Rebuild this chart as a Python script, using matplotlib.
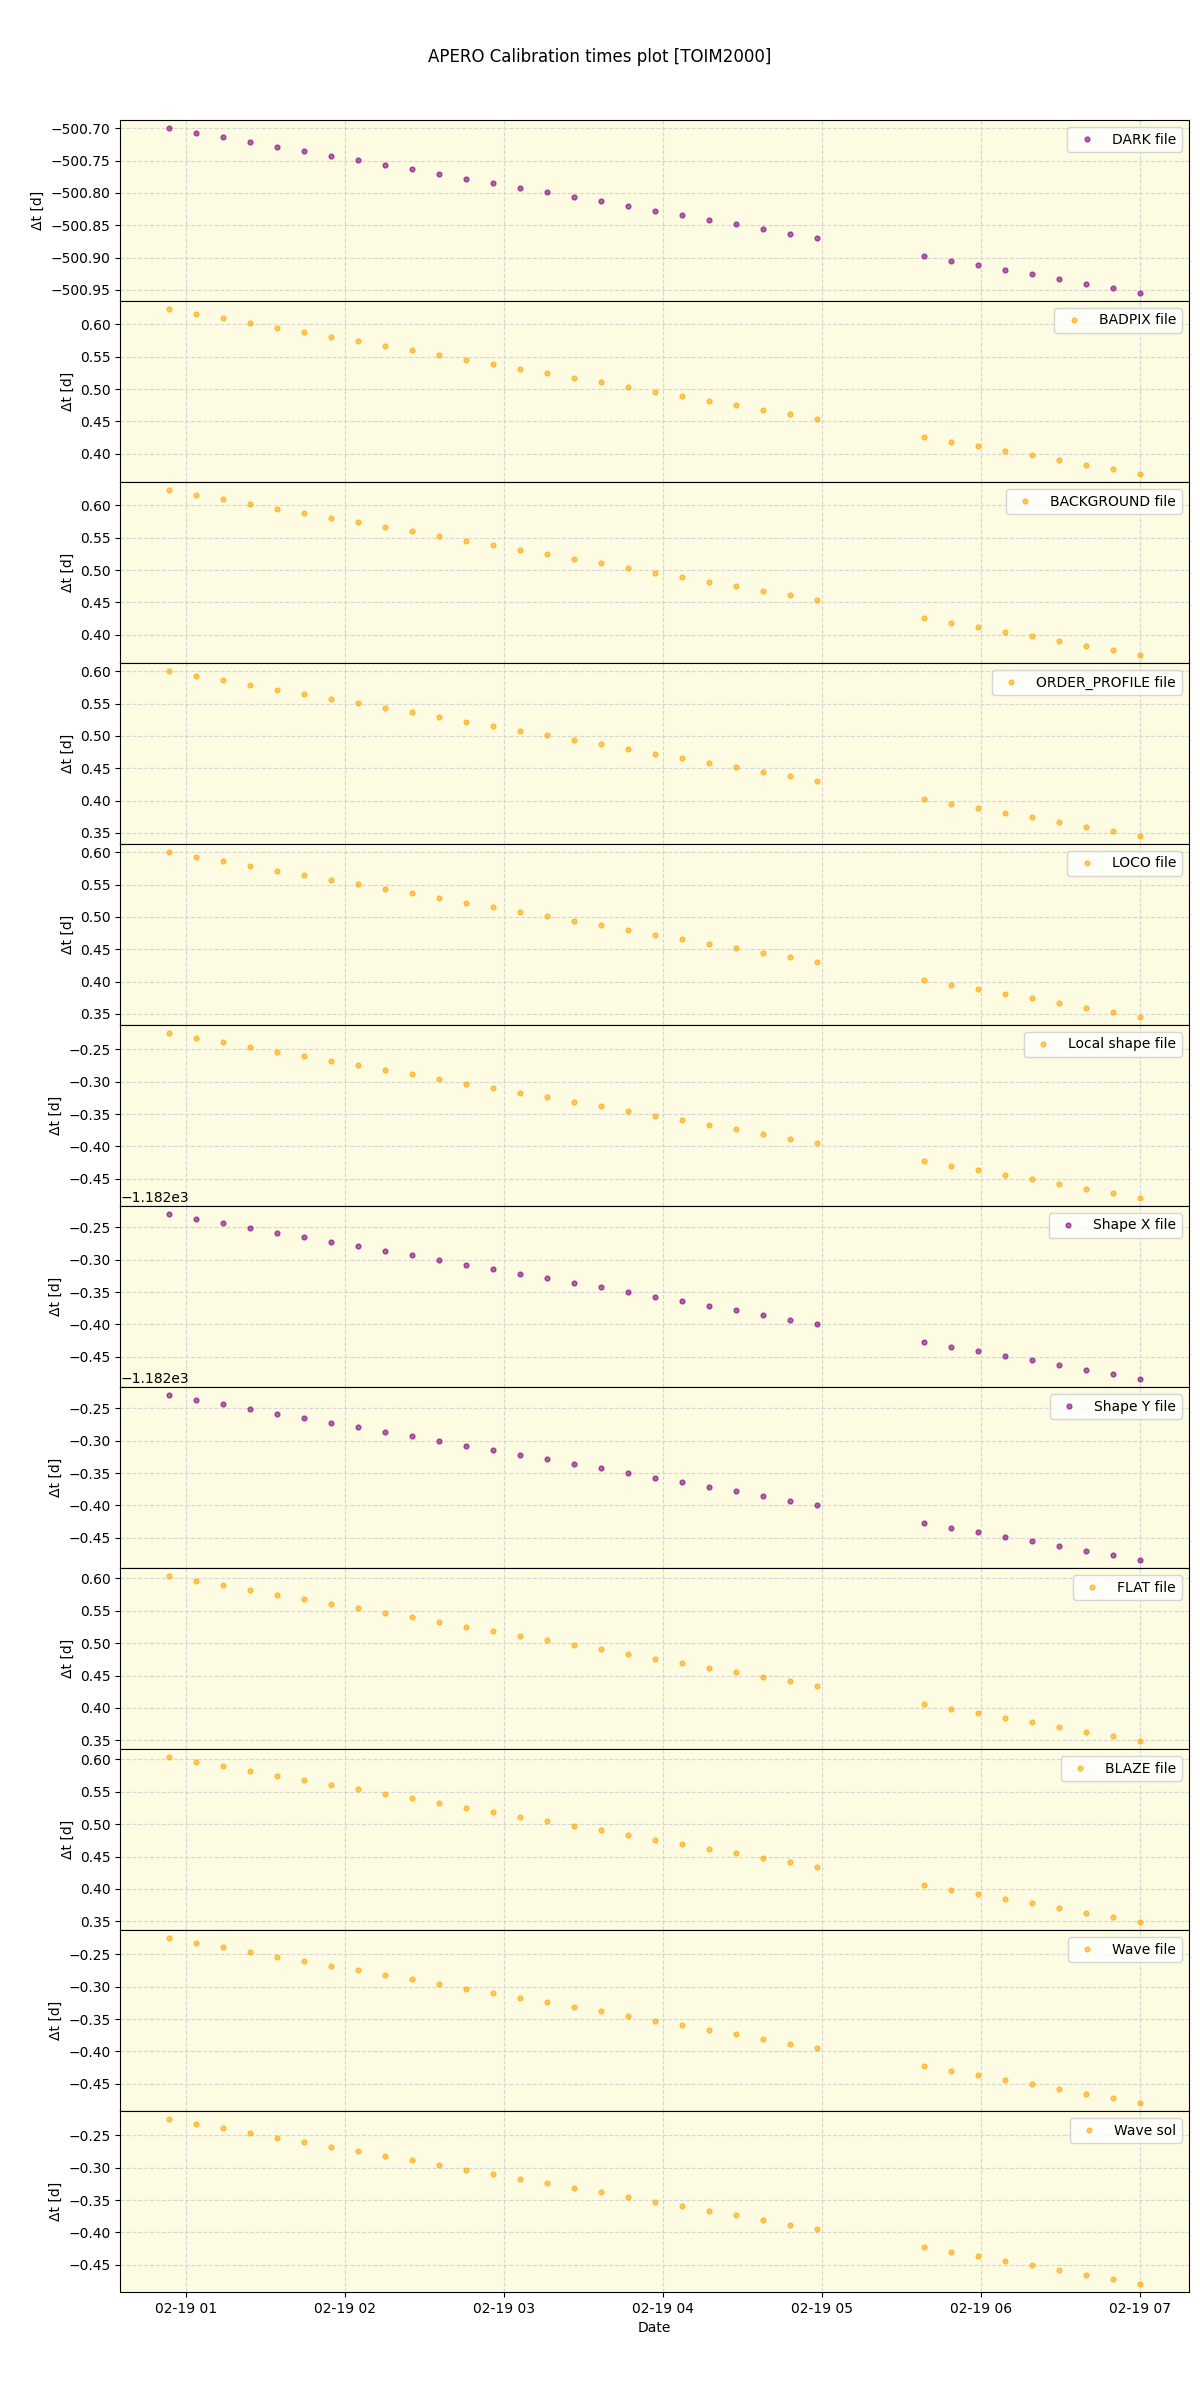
import matplotlib
matplotlib.use("Agg")
import matplotlib.pyplot as plt
import pandas as pd

# observation times (2024-02-19, UTC)
obs_times = [
    "00:53:30", "01:03:41", "01:13:53", "01:24:04", "01:34:16", "01:44:27",
    "01:54:38", "02:04:50", "02:15:01", "02:25:13", "02:35:24", "02:45:35",
    "02:55:47", "03:05:58", "03:16:10", "03:26:21", "03:36:32", "03:46:44",
    "03:56:55", "04:07:07", "04:17:18", "04:27:29", "04:37:41", "04:47:52",
    "04:58:04",
    "05:38:24", "05:48:35", "05:58:47", "06:08:58", "06:19:10", "06:29:21",
    "06:39:32", "06:49:44", "06:59:55",
]

dark_dt = [
    -500.7000, -500.7071, -500.7142, -500.7212, -500.7283, -500.7354, -500.7425,
    -500.7495, -500.7566, -500.7637, -500.7708, -500.7778, -500.7849, -500.7920,
    -500.7991, -500.8061, -500.8132, -500.8203, -500.8274, -500.8344, -500.8415,
    -500.8486, -500.8557, -500.8628, -500.8698,
    -500.8978, -500.9049, -500.9120, -500.9191, -500.9261, -500.9332, -500.9403,
    -500.9474, -500.9544,
]
badpix_dt = [
    0.6234, 0.6163, 0.6093, 0.6022, 0.5951, 0.5880, 0.5809, 0.5739, 0.5668,
    0.5597, 0.5526, 0.5456, 0.5385, 0.5314, 0.5243, 0.5173, 0.5102, 0.5031,
    0.4960, 0.4890, 0.4819, 0.4748, 0.4677, 0.4607, 0.4536,
    0.4256, 0.4185, 0.4114, 0.4043, 0.3973, 0.3902, 0.3831, 0.3760, 0.3690,
]
order_dt = [
    0.6000, 0.5929, 0.5859, 0.5788, 0.5717, 0.5646, 0.5575, 0.5505, 0.5434,
    0.5363, 0.5292, 0.5222, 0.5151, 0.5080, 0.5009, 0.4939, 0.4868, 0.4797,
    0.4726, 0.4656, 0.4585, 0.4514, 0.4443, 0.4373, 0.4302,
    0.4022, 0.3951, 0.3880, 0.3809, 0.3739, 0.3668, 0.3597, 0.3526, 0.3456,
]
shape_local_dt = [
    -0.2250, -0.2321, -0.2392, -0.2462, -0.2533, -0.2604, -0.2675, -0.2745,
    -0.2816, -0.2887, -0.2958, -0.3028, -0.3099, -0.3170, -0.3241, -0.3311,
    -0.3382, -0.3453, -0.3524, -0.3594, -0.3665, -0.3736, -0.3807, -0.3878,
    -0.3948,
    -0.4228, -0.4299, -0.4370, -0.4441, -0.4511, -0.4582, -0.4653, -0.4724,
    -0.4794,
]
shape_xy_dt = [
    -1182.2297, -1182.2368, -1182.2439, -1182.2509, -1182.2580, -1182.2651,
    -1182.2722, -1182.2792, -1182.2863, -1182.2934, -1182.3005, -1182.3075,
    -1182.3146, -1182.3217, -1182.3288, -1182.3358, -1182.3429, -1182.3500,
    -1182.3571, -1182.3641, -1182.3712, -1182.3783, -1182.3854, -1182.3925,
    -1182.3995,
    -1182.4275, -1182.4346, -1182.4417, -1182.4488, -1182.4558, -1182.4629,
    -1182.4700, -1182.4771, -1182.4841,
]
flat_dt = [
    0.6035, 0.5964, 0.5894, 0.5823, 0.5752, 0.5681, 0.5610, 0.5540, 0.5469,
    0.5398, 0.5327, 0.5257, 0.5186, 0.5115, 0.5044, 0.4974, 0.4903, 0.4832,
    0.4761, 0.4691, 0.4620, 0.4549, 0.4478, 0.4408, 0.4337,
    0.4057, 0.3986, 0.3915, 0.3844, 0.3774, 0.3703, 0.3632, 0.3561, 0.3491,
]

# (label, values, colour) for each panel, top to bottom
panels = [
    ("DARK file", dark_dt, "purple"),
    ("BADPIX file", badpix_dt, "orange"),
    ("BACKGROUND file", badpix_dt, "orange"),
    ("ORDER_PROFILE file", order_dt, "orange"),
    ("LOCO file", order_dt, "orange"),
    ("Local shape file", shape_local_dt, "orange"),
    ("Shape X file", shape_xy_dt, "purple"),
    ("Shape Y file", shape_xy_dt, "purple"),
    ("FLAT file", flat_dt, "orange"),
    ("BLAZE file", flat_dt, "orange"),
    ("Wave file", shape_local_dt, "orange"),
    ("Wave sol", shape_local_dt, "orange"),
]

dates = pd.to_datetime(["2024-02-19 " + t for t in obs_times])

fig, axes = plt.subplots(len(panels), 1, figsize=(12, 24), dpi=100, sharex=True)
fig.subplots_adjust(left=0.1004, right=0.9905, top=0.95, bottom=0.045, hspace=0)

for ax, (label, values, color) in zip(axes, panels):
    ax.set_facecolor("#fdfbe1")
    ax.plot(dates, values, marker="o", ls="", ms=3.5, color=color, alpha=0.6,
            label=label)
    ax.set_ylabel("\u0394t [d]")
    ax.grid(True, linestyle="--", color="lightgray", alpha=0.9)
    ax.legend(loc="upper right")

axes[-1].set_xlabel("Date")
fig.suptitle("APERO Calibration times plot [TOIM2000]")

fig.savefig("out.png")
